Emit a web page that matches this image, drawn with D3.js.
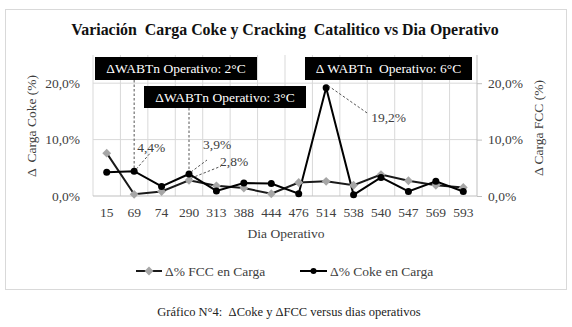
<!DOCTYPE html>
<html><head><meta charset="utf-8">
<script src="https://cdn.jsdelivr.net/npm/d3@7/dist/d3.min.js"></script>
<style>body{margin:0;background:#fff}svg text{font-family:"Liberation Serif",serif !important}</style>
</head><body><svg id="c" width="572" height="327" font-family="Liberation Serif"></svg>
<script>
const categories = ["15","69","74","290","313","388","444","476","514","538","540","547","569","593"];
const fcc  = [7.6,0.3,0.8,2.8,1.8,1.4,0.4,2.4,2.6,1.9,3.8,2.7,1.9,1.5];
const coke = [4.2,4.4,1.7,3.9,0.9,2.3,2.2,0.4,19.2,0.2,3.3,0.8,2.6,0.8];
const yTicks = [0,10,20];
const boxes = [
  {text:"ΔWABTn Operativo: 2°C", cat:"69"},
  {text:"ΔWABTn Operativo: 3°C", cat:"290"},
  {text:"Δ WABTn  Operativo: 6°C", cat:"514"}
];
const labels = [
  {text:"4,4%", cat:"69", series:"coke", v:4.4},
  {text:"3,9%", cat:"290", series:"coke", v:3.9},
  {text:"2,8%", cat:"290", series:"fcc", v:2.8},
  {text:"19,2%", cat:"514", series:"coke", v:19.2}
];

const FF = "Liberation Serif";
const svg = d3.select("#c");
const L=93,R=477,T=55,B=196;
const x = d3.scaleBand().domain(categories).range([L,R]).padding(0);
const y = d3.scaleLinear().domain([0,25]).range([B,T]);
const cx = c => x(c)+x.bandwidth()/2;
const fmt = v => d3.format(".1f")(v).replace(".",",")+"%";

svg.append("rect").attr("x",5.5).attr("y",9.5).attr("width",561).attr("height",280)
  .attr("fill","#fff").attr("stroke","#d9d9d9");

svg.append("text").attr("x",285).attr("y",35).attr("text-anchor","middle")
  .attr("font-size",15.9).attr("font-weight","bold").attr("fill","#111")
  .attr("xml:space","preserve")
  .text("Variación  Carga Coke y Cracking  Catalitico vs Dia Operativo");

// gridlines
const g = svg.append("g");
g.selectAll("line.h").data(yTicks.filter(d=>d>0)).join("line")
  .attr("x1",L).attr("x2",R).attr("y1",d=>y(d)).attr("y2",d=>y(d))
  .attr("stroke","#d9d9d9");
g.selectAll("line.v").data(categories.slice(1)).join("line")
  .attr("x1",d=>x(d)).attr("x2",d=>x(d)).attr("y1",T).attr("y2",B)
  .attr("stroke","#d9d9d9");
g.append("line").attr("x1",L).attr("x2",L).attr("y1",T).attr("y2",B).attr("stroke","#d9d9d9");
g.append("line").attr("x1",R).attr("x2",R).attr("y1",T).attr("y2",B).attr("stroke","#bfbfbf");
g.append("line").attr("x1",L).attr("x2",R).attr("y1",B).attr("y2",B).attr("stroke","#bfbfbf");

// axes
const yl = d3.axisLeft(y).tickValues(yTicks).tickSize(0).tickPadding(13).tickFormat(fmt);
const ya = svg.append("g").attr("transform",`translate(${L},0)`).call(yl);
ya.select(".domain").remove();
const yr = d3.axisRight(y).tickValues(yTicks).tickSize(5).tickPadding(6).tickFormat(fmt);
const yb = svg.append("g").attr("transform",`translate(${R},0)`).call(yr);
yb.select(".domain").remove();
yb.selectAll("line").attr("stroke","#bfbfbf");
const xa = svg.append("g").attr("transform",`translate(0,${B})`).call(d3.axisBottom(x).tickSize(0).tickPadding(11));
xa.select(".domain").remove();
svg.selectAll("g").attr("font-family",FF);
svg.selectAll(".tick text").attr("font-size",13.5).attr("fill","#404040");

svg.append("text").attr("x",286).attr("y",238).attr("text-anchor","middle")
  .attr("font-size",13.5).attr("fill","#404040").text("Dia Operativo");
svg.append("text").attr("transform","translate(36,126) rotate(-90)").attr("text-anchor","middle")
  .attr("font-size",13.5).attr("fill","#404040").attr("xml:space","preserve").text("Δ  Carga Coke (%)");
svg.append("text").attr("transform","translate(543,128) rotate(-90)").attr("text-anchor","middle")
  .attr("font-size",13.5).attr("fill","#404040").text("Δ Carga FCC (%)");

// lines
const line = d3.line().x((d,i)=>cx(categories[i])).y(d=>y(d));
svg.append("path").datum(fcc).attr("d",line).attr("fill","none").attr("stroke","#1a1a1a").attr("stroke-width",2);
svg.append("path").datum(coke).attr("d",line).attr("fill","none").attr("stroke","#000").attr("stroke-width",2);
const diamond = d3.symbol().type(d3.symbolDiamond2).size(50);
svg.selectAll("path.fm").data(fcc).join("path")
  .attr("d",diamond).attr("transform",(d,i)=>`translate(${cx(categories[i])},${y(d)})`)
  .attr("fill","#a6a6a6");
svg.selectAll("circle.cm").data(coke).join("circle")
  .attr("cx",(d,i)=>cx(categories[i])).attr("cy",d=>y(d)).attr("r",3.5).attr("fill","#000");

// annotations: leader lines
const val = (s,c)=> (s==="coke"?coke:fcc)[categories.indexOf(c)];
const dash = {stroke:"#555","stroke-width":1,"stroke-dasharray":"2.5,2"};
function dl(x1,y1,x2,y2){const l=svg.append("line").attr("x1",x1).attr("y1",y1).attr("x2",x2).attr("y2",y2);
  for(const k in dash) l.attr(k,dash[k]);}
dl(cx("69"),80,cx("69"),y(val("coke","69"))-3);
dl(cx("290"),108,cx("290"),y(val("coke","290"))-3);
const lo = {"4,4%":[16,-18,3,-23],"3,9%":[18,-14,14,-29],"2,8%":[32,-14,31,-18],"19,2%":[42,26,45,30]};
labels.forEach(lb=>{
  const px=cx(lb.cat), py=y(val(lb.series,lb.cat));
  const o=lo[lb.text];
  dl(px+2,py-2,px+o[0],py+o[1]);
  svg.append("text").attr("x",px+o[2]).attr("y",py+o[3]+4).attr("font-size",13.5).attr("fill","#404040").text(lb.text);
});

// boxes
const boxGeo = {"69":[95,57,162,23],"290":[144,86,162,22],"514":[305,57,167,23]};
boxes.forEach(b=>{
  const gb=boxGeo[b.cat];
  svg.append("rect").attr("x",gb[0]).attr("y",gb[1]).attr("width",gb[2]).attr("height",gb[3]).attr("fill","#000");
  svg.append("text").attr("x",gb[0]+gb[2]/2).attr("y",gb[1]+gb[3]/2+4.5).attr("text-anchor","middle")
    .attr("font-size",13.5).attr("fill","#fff").attr("xml:space","preserve").text(b.text);
});

// legend
const lg = svg.append("g");
lg.append("line").attr("x1",136).attr("x2",162).attr("y1",271).attr("y2",271).attr("stroke","#1a1a1a").attr("stroke-width",2);
lg.append("path").attr("d",diamond).attr("transform","translate(149,271)").attr("fill","#a6a6a6");
lg.append("text").attr("x",165).attr("y",275.5).attr("font-size",13.5).attr("fill","#404040").text("Δ% FCC en Carga");
lg.append("line").attr("x1",300).attr("x2",327).attr("y1",271).attr("y2",271).attr("stroke","#000").attr("stroke-width",2);
lg.append("circle").attr("cx",313.5).attr("cy",271).attr("r",3).attr("fill","#000");
lg.append("text").attr("x",330).attr("y",275.5).attr("font-size",13.5).attr("fill","#404040").text("Δ% Coke en Carga");

svg.append("text").attr("x",289).attr("y",316).attr("text-anchor","middle").attr("font-size",12.5)
  .attr("fill","#222").attr("xml:space","preserve").text("Gráfico N°4:  ΔCoke y ΔFCC versus dias operativos");
</script></body></html>
